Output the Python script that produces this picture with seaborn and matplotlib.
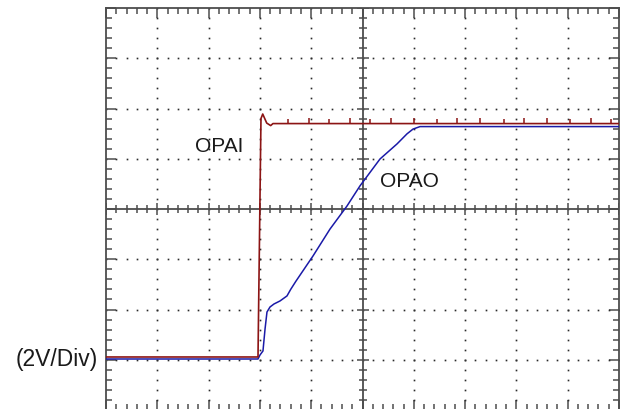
import numpy as np
import pandas as pd
import matplotlib
matplotlib.use("Agg")
import matplotlib.pyplot as plt
import seaborn as sns

# Scope capture: time in divisions (10 div), voltage in volts at 2 V/div (8 div)
opai_t = [0.0, 2.963, 3.021, 3.055, 3.133, 3.210, 3.255, 10.0]
opai_v = [2.11, 2.11, 11.60, 11.78, 11.42, 11.32, 11.40, 11.40]

opao_t = [0.0, 2.963, 3.002, 3.060, 3.100, 3.138, 3.197, 3.275, 3.392, 3.528,
          3.600, 3.700, 4.035, 4.366, 4.698, 4.951, 5.341, 5.673, 5.867,
          5.984, 6.121, 10.0]
opao_v = [2.03, 2.03, 2.19, 2.35, 3.22, 3.90, 4.10, 4.22, 4.34, 4.54,
          4.80, 5.12, 6.13, 7.20, 8.12, 8.92, 9.99, 10.59, 10.99,
          11.18, 11.28, 11.28]

# small glitches riding on the OPAI high level (time, spike height in V)
opai_glitch_t = [3.55, 3.95, 4.35, 4.75, 5.15, 5.55, 6.00, 6.45, 6.85,
                 7.30, 7.75, 8.15, 8.60, 9.05, 9.45, 9.85]
opai_glitch_h = [0.18, 0.22, 0.18, 0.24, 0.18, 0.22, 0.24, 0.18, 0.22,
                 0.24, 0.18, 0.22, 0.24, 0.18, 0.22, 0.18]

trace_labels = ["OPAI", "OPAO"]
scale_label = "(2V/Div)"

RED = "#8c1414"
BLUE = "#1a1aa8"
GRID = "#4d4d4d"

sns.set_style("white")
plt.rcParams["font.family"] = ["Liberation Sans", "DejaVu Sans"]

fig = plt.figure(figsize=(6.25, 4.10), dpi=100)
ax = fig.add_axes([106 / 625, -1 / 410, 513 / 625, 402 / 410])

n_x, n_y = 10, 8
v_per_div = 2.0
ax.set_xlim(0, n_x)
ax.set_ylim(0, n_y * v_per_div)

# dotted graticule: a dot every 1/5 division on each grid line
sub = np.arange(0, n_x + 1e-9, 0.2)
sub_v = np.arange(0, n_y * v_per_div + 1e-9, 0.2 * v_per_div)
for gx in range(1, n_x):
    if gx == n_x // 2:
        continue
    ax.plot(np.full_like(sub_v, gx), sub_v, ls="none", marker="s",
            ms=1.2, mew=0, color="#2a2a2a", zorder=1)
for gy in range(1, n_y):
    if gy == n_y // 2:
        continue
    ax.plot(sub, np.full_like(sub, gy * v_per_div), ls="none", marker="s",
            ms=1.2, mew=0, color="#2a2a2a", zorder=1)

# centre cross with its own tick marks
cx, cy = n_x / 2, n_y / 2 * v_per_div
ax.axvline(cx, color=GRID, lw=1.3, zorder=2)
ax.axhline(cy, color=GRID, lw=1.3, zorder=2)
dx_px = 1 / 51.3
dy_px = v_per_div / 50.25
for t in sub:
    half = 6 if abs(t - round(t)) < 1e-6 else 4
    ax.vlines(t, cy - half * dy_px, cy + half * dy_px, color=GRID, lw=1.1, zorder=2)
for v in sub_v:
    half = 6 if abs(v / v_per_div - round(v / v_per_div)) < 1e-6 else 4
    ax.hlines(v, cx - half * dx_px, cx + half * dx_px, color=GRID, lw=1.1, zorder=2)

# frame ticks
for s in ax.spines.values():
    s.set_color(GRID)
    s.set_linewidth(1.3)
ax.set_xticks(np.arange(0, n_x + 1, 1))
ax.set_xticks(sub, minor=True)
ax.set_yticks(np.arange(0, n_y * v_per_div + 1e-9, v_per_div))
ax.set_yticks(sub_v, minor=True)
ax.tick_params(which="both", direction="in", top=True, right=True,
               bottom=True, left=True, labelbottom=False, labelleft=False,
               color=GRID, width=1.1)
ax.tick_params(which="major", length=7.5)
ax.tick_params(which="minor", length=4.3)

# traces
df_i = pd.DataFrame({"t": opai_t, "v": opai_v})
df_o = pd.DataFrame({"t": opao_t, "v": opao_v})
sns.lineplot(data=df_o, x="t", y="v", sort=False, estimator=None,
             color=BLUE, lw=1.1, ax=ax, zorder=4)
sns.lineplot(data=df_i, x="t", y="v", sort=False, estimator=None,
             color=RED, lw=1.2, ax=ax, zorder=5)
high = opai_v[-1]
ax.vlines(opai_glitch_t, high, [high + h for h in opai_glitch_h],
          color=RED, lw=1.1, zorder=5)
ax.set_xlabel("")
ax.set_ylabel("")

ax.text(1.735, 10.51, trace_labels[0], ha="left", va="center",
        fontsize=15, color="#1a1a1a", zorder=6)
ax.text(5.34, 9.15, trace_labels[1], ha="left", va="center",
        fontsize=15, color="#1a1a1a", zorder=6)
ax.text(-0.16, 2.03, scale_label, ha="right", va="center",
        fontsize=16.5, color="#1a1a1a", clip_on=False)

fig.savefig("out.png", dpi=100)
